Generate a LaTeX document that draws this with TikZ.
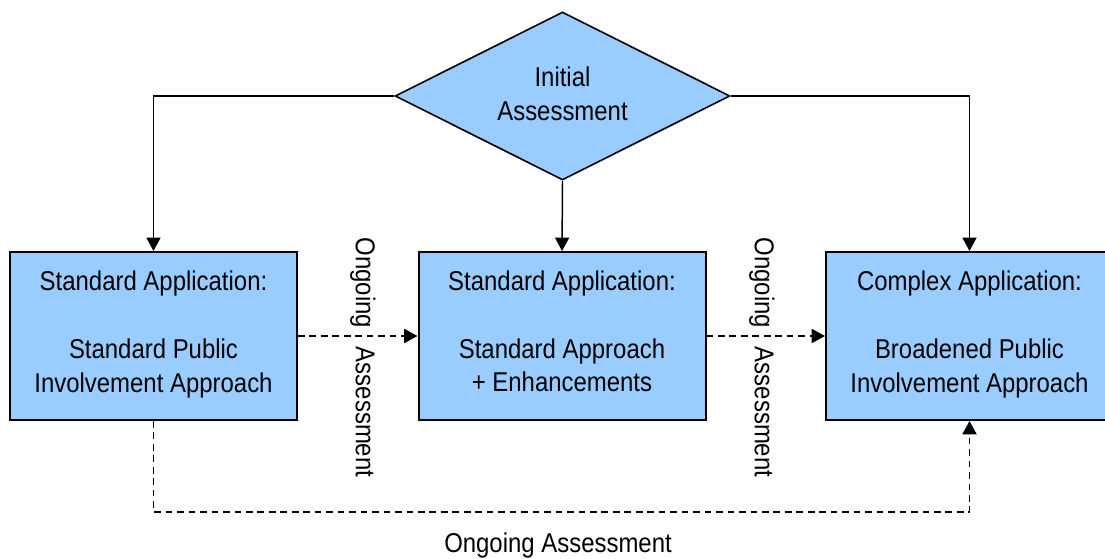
\documentclass[tikz,border=0pt]{standalone}
\usepackage{fontspec}
\setmainfont{Liberation Sans}[FakeStretch=0.88]
\usetikzlibrary{shapes.geometric,arrows.meta}
\definecolor{boxblue}{HTML}{99CCFF}
\tikzset{
  every node/.style={font=\fontsize{20.4}{25.3}\selectfont, text=black},
  stdbox/.style={draw=black, line width=1.5pt, fill=boxblue, minimum width=215.25pt, minimum height=126pt, inner sep=0pt},
  decision/.style={draw=black, line width=1.2pt, fill=boxblue, diamond, aspect=2, minimum width=251.25pt, minimum height=126pt, inner sep=0pt},
  boxtext/.style={align=center, inner sep=0pt},
  conn/.style={line width=1.1pt, -{Triangle[length=10pt,width=10.5pt]}},
  dconn/.style={conn, line width=1.4pt, dash pattern=on 5pt off 3.6pt},
  vlabel/.style={rotate=-90, inner sep=0pt}
}
\begin{document}
\begin{tikzpicture}[x=0.75pt,y=-0.75pt]
\useasboundingbox (0,0) rectangle (1105,559);
\node[decision] (d) at (562.5,96) {};
\node[boxtext] (dt) at (562.5,93.5) {Initial\\Assessment};
\node[stdbox] (b1) at (153.5,336) {};
\node[stdbox] (b2) at (562,336) {};
\node[stdbox] (b3) at (969.5,336) {};
\node[boxtext] (t1) at (153.5,334.5) {Standard Application:\\[25.3pt]Standard Public\\Involvement Approach};
\node[boxtext] (t2) at (562,331.5) {Standard Application:\\[25.3pt]Standard Approach\\+ Enhancements};
\node[boxtext] (t3) at (969.5,334.5) {Complex Application:\\[25.3pt]Broadened Public\\Involvement Approach};
\draw[conn] (d.west) -| (b1.north);
\draw[conn] (d.east) -| (b3.north);
\draw[conn] (d.south) -- (b2.north);
\node[vlabel] (v1) at (363,357.5) {Ongoing\hspace{14pt}Assessment};
\node[vlabel] (v2) at (762,357.5) {Ongoing\hspace{14pt}Assessment};
\draw[dconn] (b1.east) -- (b2.west);
\draw[dconn] (b2.east) -- (b3.west);
\coordinate (bl) at (153.5,512);
\draw[dconn] (b1.south) -- (bl) -| (b3.south);
\node (bottom) at (558,545) {Ongoing Assessment};
\end{tikzpicture}
\end{document}
